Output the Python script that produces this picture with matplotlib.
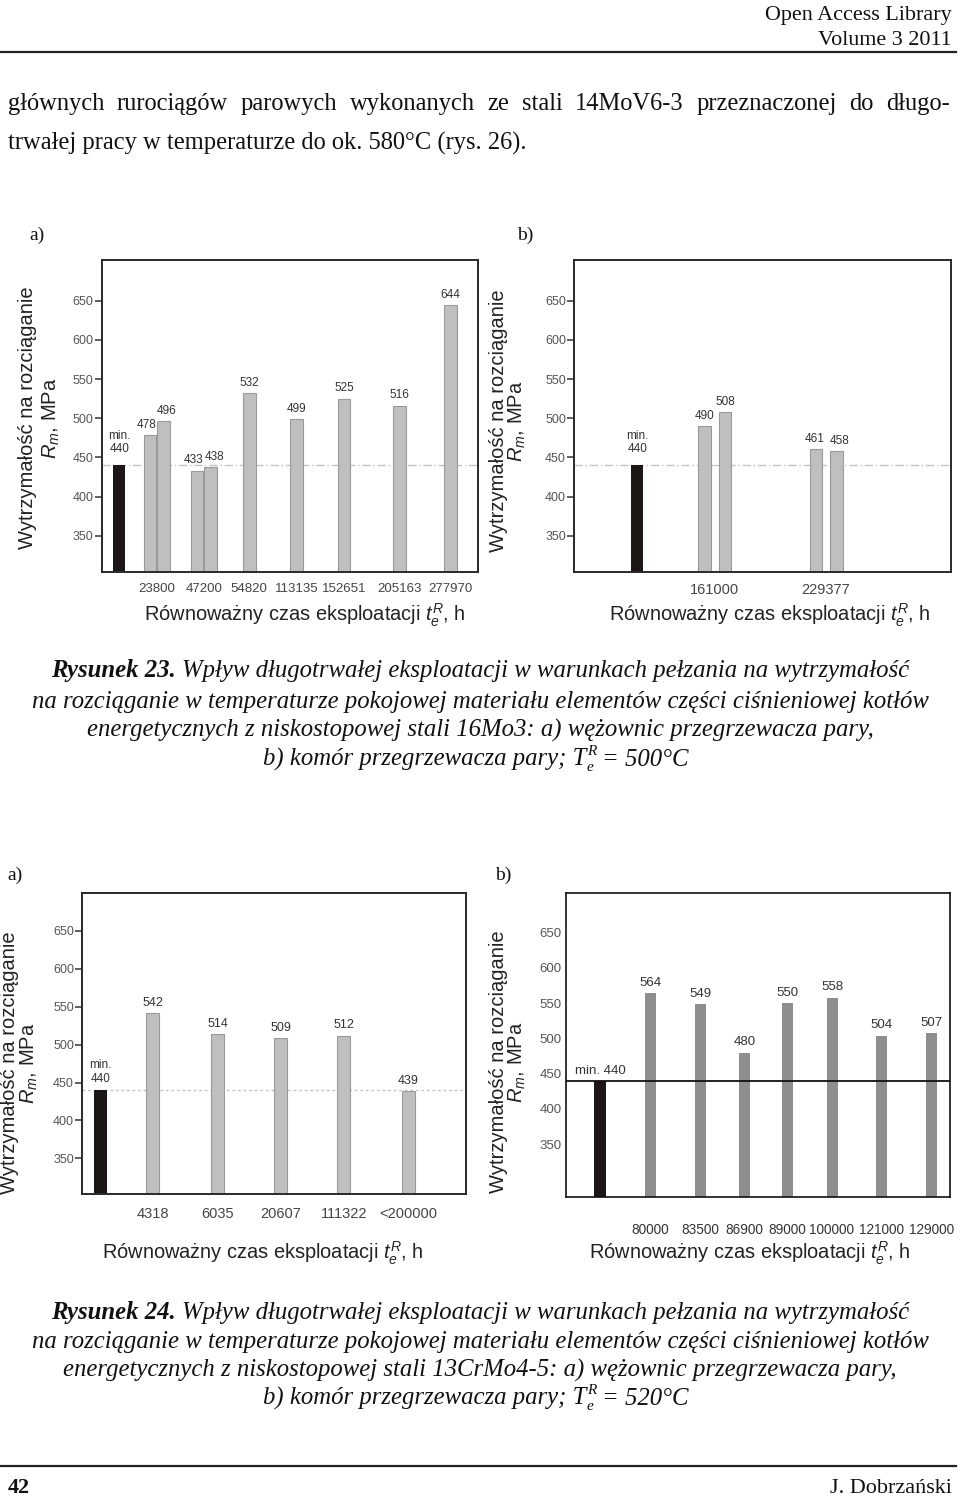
import matplotlib
matplotlib.use('Agg')
import matplotlib.pyplot as plt

W, H = 960, 1497
plt.rcParams['mathtext.fontset'] = 'custom'
plt.rcParams['mathtext.rm'] = 'Liberation Sans'
plt.rcParams['mathtext.it'] = 'Liberation Sans:italic'
plt.rcParams['mathtext.bf'] = 'Liberation Sans:bold'

NARROW = ['Liberation Sans', 'DejaVu Sans']
SANS = ['Liberation Sans', 'DejaVu Sans']
SERIF = ['Liberation Serif', 'DejaVu Serif']

# ---------------- data ----------------
min_value = 440

a23_ticks = ['23800', '47200', '54820', '113135', '152651', '205163', '277970']
a23_values = [478, 496, 433, 438, 532, 499, 525, 516, 644]
a23_group = [0, 0, 1, 1, 2, 3, 4, 5, 6]

b23_ticks = ['161000', '229377']
b23_values = [490, 508, 461, 458]
b23_group = [0, 0, 1, 1]

a24_ticks = ['4318', '6035', '20607', '111322', '<200000']
a24_values = [542, 514, 509, 512, 439]

b24_ticks = ['80000', '83500', '86900', '89000', '100000', '121000', '129000']
b24_values = [564, 549, 480, 550, 558, 504, 507]

y_ticks = [350, 400, 450, 500, 550, 600, 650]

# ---------------- layout (pixels) ----------------
# positions of bars inside each axes, in pixels from the left spine
a23_pos = [48.3, 62, 95.3, 108.6, 147.6, 194.6, 242.3, 298, 348.6]
a23_label_dx = [-3, 3, -4, 4, 0, 0, 0, 0, 0]
a23_min_pos = 17.6
b23_pos = [130.4, 150.7, 241.5, 262]
b23_label_dx = [0, 0, -1, 3]
b23_min_pos = 62.9
a24_pos = [70.4, 135.2, 198.5, 261.4, 325.9]
a24_min_pos = 18
b24_pos = [84.3, 134, 178.7, 221.2, 266, 315.2, 365.3]
b24_min_pos = 34

fig = plt.figure(figsize=(W / 100, H / 100), dpi=100)
fig.patch.set_facecolor('white')
renderer = fig.canvas.get_renderer()


def fx(x):
    return x / W


def fy(y):
    return 1 - y / H


def make_axes(l, t, r, b):
    return fig.add_axes([fx(l), fy(b), (r - l) / W, (b - t) / H])


def text_w(s, **kw):
    t = fig.text(0, 0, s, **kw)
    w = t.get_window_extent(renderer).width
    t.remove()
    return w


def fit_size(s, target, **kw):
    w = text_w(s, fontsize=20, **kw)
    return 20 * target / w


def style_axes(ax, ylim, width_px, ticks_marks=True, tick_fs=9, spine_col='#2a2a2a', lw=1.4):
    ax.set_xlim(0, width_px)
    ax.set_ylim(*ylim)
    ax.set_yticks(y_ticks)
    ax.set_yticklabels([str(v) for v in y_ticks], family=NARROW, fontsize=tick_fs, color='#555555')
    for s in ax.spines.values():
        s.set_color(spine_col)
        s.set_linewidth(lw)
    if ticks_marks:
        ax.tick_params(axis='y', length=5, width=1.2, color='#444444', pad=1)
    else:
        ax.tick_params(axis='y', length=0, pad=3)


light = '#bfbfbf'
light_edge = '#9a9a9a'
black_bar = '#1c1616'
val_col = '#333333'

# ---------- Figure 23 a ----------
ax = make_axes(101.7, 260, 478, 572)
wpx = 478 - 101.7
style_axes(ax, (303.6, 702), wpx)
ax.axhline(min_value, color='#c4c4c4', lw=1.0, ls=(0, (6, 2, 1, 2)), zorder=0)
ax.bar([a23_min_pos], [min_value], width=12, color=black_bar, zorder=2)
ax.bar(a23_pos, a23_values, width=12.5, color=light, edgecolor=light_edge, linewidth=0.8, zorder=2)
for x, v, dx in zip(a23_pos, a23_values, a23_label_dx):
    ax.annotate(str(v), (x, v), xytext=(dx * 0.72, 3), textcoords='offset points', ha='center', va='bottom',
                family=NARROW, fontsize=8.5, color=val_col)
ax.annotate('min.\n440', (a23_min_pos, min_value), xytext=(0, 7), textcoords='offset points',
            ha='center', va='bottom', family=NARROW, fontsize=8.5, color=val_col, linespacing=1.15)
tick_x = [sum(p for p, g in zip(a23_pos, a23_group) if g == i) / a23_group.count(i) for i in range(len(a23_ticks))]
ax.set_xticks(tick_x)
ax.set_xticklabels(a23_ticks, family=NARROW, fontsize=9.5, color='#444444')
ax.tick_params(axis='x', length=0, pad=8)

# ---------- Figure 23 b ----------
ax = make_axes(574.3, 260, 950.7, 572)
wpx = 950.7 - 574.3
style_axes(ax, (303.6, 702), wpx)
ax.axhline(min_value, color='#c4c4c4', lw=1.0, ls=(0, (6, 2, 1, 2)), zorder=0)
ax.bar([b23_min_pos], [min_value], width=12, color=black_bar, zorder=2)
ax.bar(b23_pos, b23_values, width=12.5, color=light, edgecolor=light_edge, linewidth=0.8, zorder=2)
for x, v, dx in zip(b23_pos, b23_values, b23_label_dx):
    ax.annotate(str(v), (x, v), xytext=(dx * 0.72, 3), textcoords='offset points', ha='center', va='bottom',
                family=NARROW, fontsize=8.5, color=val_col)
ax.annotate('min.\n440', (b23_min_pos, min_value), xytext=(0, 7), textcoords='offset points',
            ha='center', va='bottom', family=NARROW, fontsize=8.5, color=val_col, linespacing=1.15)
tick_x = [sum(p for p, g in zip(b23_pos, b23_group) if g == i) / b23_group.count(i) for i in range(len(b23_ticks))]
ax.set_xticks(tick_x)
ax.set_xticklabels(b23_ticks, family=NARROW, fontsize=10.5, color='#444444')
ax.tick_params(axis='x', length=0, pad=8)

# ---------- Figure 24 a ----------
ax = make_axes(82.3, 892.7, 465.7, 1194.3)
wpx = 465.7 - 82.3
style_axes(ax, (302.5, 700.5), wpx)
ax.axhline(min_value, color='#c4c4c4', lw=1.0, ls=(0, (2, 2)), zorder=0)
ax.bar([a24_min_pos], [min_value], width=12.5, color=black_bar, zorder=2)
ax.bar(a24_pos, a24_values, width=13, color=light, edgecolor=light_edge, linewidth=0.8, zorder=2)
for x, v in zip(a24_pos, a24_values):
    ax.annotate(str(v), (x, v), xytext=(0, 3), textcoords='offset points', ha='center', va='bottom',
                family=NARROW, fontsize=9, color=val_col)
ax.annotate('min.\n440', (a24_min_pos, min_value), xytext=(0, 4), textcoords='offset points',
            ha='center', va='bottom', family=NARROW, fontsize=8.5, color=val_col, linespacing=1.15)
ax.set_xticks(a24_pos)
ax.set_xticklabels(a24_ticks, family=NARROW, fontsize=10.5, color='#444444')
ax.tick_params(axis='x', length=0, pad=9)

# ---------- Figure 24 b ----------
ax = make_axes(566, 892.7, 950, 1196.7)
wpx = 950 - 566
style_axes(ax, (275.5, 706.7), wpx, ticks_marks=False, tick_fs=9.5, spine_col='#111111', lw=1.2)
ax.axhline(min_value, color='#111111', lw=1.3, zorder=3)
ax.bar([b24_min_pos], [min_value], width=12, color=black_bar, zorder=2)
ax.bar(b24_pos, b24_values, width=11, color='#8e8e8e', linewidth=0, zorder=2)
for x, v in zip(b24_pos, b24_values):
    ax.annotate(str(v), (x, v), xytext=(0, 3), textcoords='offset points', ha='center', va='bottom',
                family=NARROW, fontsize=9.5, color=val_col)
ax.annotate('min. 440', (b24_min_pos, min_value), xytext=(0, 3), textcoords='offset points',
            ha='center', va='bottom', family=NARROW, fontsize=9.5, color=val_col)
ax.set_xticks(b24_pos)
ax.set_xticklabels(b24_ticks, family=NARROW, fontsize=9.8, color='#333333')
ax.tick_params(axis='x', length=0, pad=19)

# ---------- axis titles ----------
ylab1 = 'Wytrzymałość na rozciąganie'
ylab2 = '$R_m$, MPa'
ysz = fit_size(ylab1, 262, family=SANS)
for (x1, x2, yc) in [(28, 51, 418), (498, 517, 421), (10, 29, 1063), (498, 517, 1062)]:
    fig.text(fx(x1), fy(yc), ylab1, rotation=90, ha='center', va='center', family=SANS, fontsize=ysz, color='#222222')
    fig.text(fx(x2), fy(yc), ylab2, rotation=90, ha='center', va='center', family=SANS, fontsize=ysz, color='#222222')

xlab = 'Równoważny czas eksploatacji $t_e^R$, h'
xsz = fit_size(xlab, 320, family=SANS)
for (xc, yb) in [(305, 621), (770, 621), (263, 1259), (750, 1259)]:
    fig.text(fx(xc), fy(yb), xlab, ha='center', va='baseline', family=SANS, fontsize=xsz, color='#222222')

# ---------- page text ----------
def draw_runs(runs, yb, center=None, left=None, right=None):
    """runs: list of (text, props, dy_px, space_before, advance)"""
    widths = []
    for (s, props, dy, sp, adv) in runs:
        widths.append(text_w(s, **props))
    total = 0
    xs = []
    for (s, props, dy, sp, adv), w in zip(runs, widths):
        if sp:
            total += text_w('a a', **props) - text_w('aa', **props)
        xs.append(total)
        if adv:
            total += w
    if center is not None:
        x0 = center - total / 2
    elif right is not None:
        x0 = right - total
    else:
        x0 = left
    for (s, props, dy, sp, adv), x in zip(runs, xs):
        fig.text(fx(x0 + x), fy(yb - dy), s, ha='left', va='baseline', **props)


def justify(words, yb, left, right, props):
    ws = [text_w(w, **props) for w in words]
    gap = (right - left - sum(ws)) / (len(words) - 1)
    x = left
    for w, wd in zip(words, ws):
        fig.text(fx(x), fy(yb), w, ha='left', va='baseline', **props)
        x += wd + gap


# header
hsz = fit_size('Open Access Library', 187, family=SERIF)
fig.text(fx(952), fy(20), 'Open Access Library', ha='right', va='baseline', family=SERIF, fontsize=hsz, color='#111111')
fig.text(fx(952), fy(45), 'Volume 3 2011', ha='right', va='baseline', family=SERIF, fontsize=hsz, color='#111111')
fig.add_artist(plt.Line2D([0, fx(956)], [fy(52), fy(52)], color='#222222', lw=1.6))

# body
line2 = 'trwałej pracy w temperaturze do ok. 580°C (rys. 26).'
bsz = fit_size(line2, 519, family=SERIF)
bprops = dict(family=SERIF, fontsize=bsz, color='#111111')
justify('głównych rurociągów parowych wykonanych ze stali 14MoV6-3 przeznaczonej do długo-'.split(),
        110, 8, 950, bprops)
fig.text(fx(8), fy(150), line2, ha='left', va='baseline', **bprops)

# panel letters
for (x, y, s) in [(37, 240, 'a)'), (525, 240, 'b)'), (15, 880, 'a)'), (503, 880, 'b)')]:
    fig.text(fx(x), fy(y), s, ha='center', va='baseline', family=SERIF, fontsize=14, color='#111111')

# captions
cap_line2 = 'na rozciąganie w temperaturze pokojowej materiału elementów części ciśnieniowej kotłów'
csz = fit_size(cap_line2, 895, family=SERIF, style='italic')
it = dict(family=SERIF, fontsize=csz, style='italic', color='#111111')
bi = dict(family=SERIF, fontsize=csz, style='italic', weight='bold', color='#111111')
sm = dict(family=SERIF, fontsize=csz * 0.62, style='italic', color='#111111')


def caption(num, steel, temp, ys):
    draw_runs([(f'Rysunek {num}.', bi, 0, False, True),
               ('Wpływ długotrwałej eksploatacji w warunkach pełzania na wytrzymałość', it, 0, True, True)],
              ys[0], center=480)
    draw_runs([(cap_line2, it, 0, False, True)], ys[1], center=480)
    draw_runs([(f'energetycznych z niskostopowej stali {steel}: a) wężownic przegrzewacza pary,', it, 0, False, True)],
              ys[2], center=480)
    draw_runs([('b) komór przegrzewacza pary; T', it, 0, False, True),
               ('e', sm, -5, False, False),
               ('R', sm, 11, False, True),
               (f'= {temp}°C', it, 0, True, True)], ys[3], center=476)


caption(23, '16Mo3', 500, [677, 708, 737, 766])
caption(24, '13CrMo4-5', 520, [1319, 1348, 1377, 1405])

# footer
fig.add_artist(plt.Line2D([0, fx(956)], [fy(1466), fy(1466)], color='#222222', lw=1.6))
fig.text(fx(8), fy(1493), '42', ha='left', va='baseline', family=SERIF, fontsize=16, weight='bold', color='#111111')
fsz = fit_size('J. Dobrzański', 122, family=SERIF)
fig.text(fx(952), fy(1493), 'J. Dobrzański', ha='right', va='baseline', family=SERIF, fontsize=fsz, color='#111111')

fig.savefig('out.png', dpi=100, facecolor='white')
